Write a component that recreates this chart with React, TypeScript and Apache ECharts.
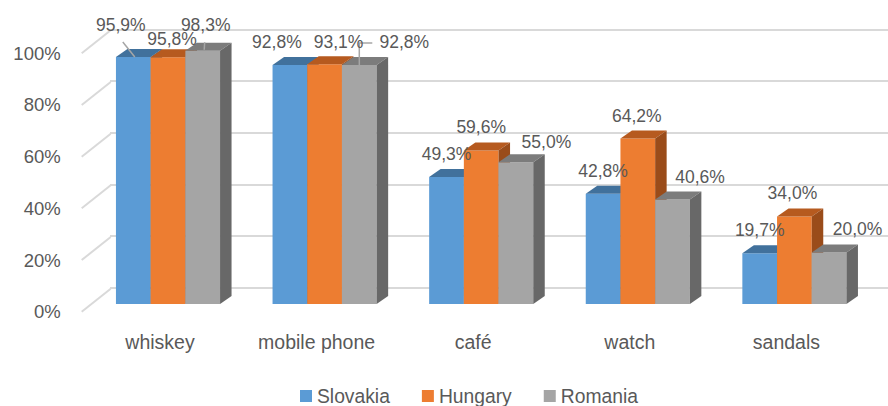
import React, { useEffect, useRef } from "react";
import * as echarts from "echarts";

const categories = ["whiskey", "mobile phone", "café", "watch", "sandals"];
const seriesNames = ["Slovakia", "Hungary", "Romania"];
const slovakia = [95.9, 92.8, 49.3, 42.8, 19.7];
const hungary = [95.8, 93.1, 59.6, 64.2, 34.0];
const romania = [98.3, 92.8, 55.0, 40.6, 20.0];
const yTicks = [0, 20, 40, 60, 80, 100];

// ---- styling (kept apart from the data) ----
const FONT = "'Liberation Sans', Arial, sans-serif";
const TXT = "#595959";
const FRONT = ["#5B9BD5", "#ED7D31", "#A5A5A5"];
const TOP = ["#41719C", "#B65A1F", "#7C7C7C"];
const SIDE = ["#365F86", "#9A4C1A", "#686868"];
const DX = 11.5;
const DY = -8;
const BAR_FRAC = 34.7 / 156.6;
const LABEL_GAP = 23;
const labelNudge = [
  [[-12.5, -9], [-13, 0], [0, 0], [0, 0], [0, 0]],
  [[4, 5], [14, 0.5], [0, 0], [-1, 0], [-2, 0]],
  [[3, -3], [45, 0], [30.5, 3], [27.5, 0.5], [28.5, 0]],
];
const leaders = [
  { s: 0, i: 0, from: [2, 17], elbow: false, end: 0 },
  { s: 2, i: 0, from: [-1, 17.5], elbow: false, end: -1 },
  { s: 2, i: 1, from: [-32, 1], elbow: true, end: 5 },
];

const fmt = (v: number) => v.toFixed(1).replace(".", ",") + "%";

function barSeries(s: number, values: number[]) {
  return {
    type: "custom",
    name: seriesNames[s],
    xAxisIndex: 2,
    yAxisIndex: 2,
    itemStyle: { color: FRONT[s] },
    data: values.map((v, i) => [i, v]),
    encode: { x: 0, y: 1 },
    renderItem: (params: any, api: any) => {
      const idx = api.value(0);
      const v = api.value(1);
      const band = api.size([1, 0])[0];
      const bw = band * BAR_FRAC;
      const [cx, yTop] = api.coord([idx, v]);
      const yBase = api.coord([idx, 0])[1];
      const x0 = cx - 1.5 * bw + s * bw;
      const x1 = x0 + bw;
      const bcx = x0 + bw / 2;
      const [nx, ny] = labelNudge[s][idx];
      const lx = bcx + nx;
      const ly = yTop - LABEL_GAP + ny;
      const children: any[] = [
        {
          type: "rect",
          shape: { x: x0, y: yTop, width: bw, height: yBase - yTop },
          style: { fill: FRONT[s] },
          z2: 1,
        },
        {
          type: "polygon",
          shape: { points: [[x0, yTop], [x0 + DX, yTop + DY], [x1 + DX, yTop + DY], [x1, yTop]] },
          style: { fill: TOP[s] },
          z2: 1,
        },
        {
          type: "polygon",
          shape: { points: [[x1, yTop], [x1 + DX, yTop + DY], [x1 + DX, yBase + DY], [x1, yBase]] },
          style: { fill: SIDE[s] },
          z2: 1,
        },
        {
          type: "text",
          x: lx,
          y: ly,
          style: {
            text: fmt(v),
            fill: TXT,
            font: `17.5px ${FONT}`,
            align: "center",
            verticalAlign: "middle",
          },
          z2: 20,
        },
      ];
      const ld = leaders.find((l) => l.s === s && l.i === idx);
      if (ld) {
        const p0 = [lx + ld.from[0], ly + ld.from[1]];
        const pts = ld.elbow
          ? [p0, [bcx, p0[1]], [bcx, yTop + ld.end]]
          : [p0, [bcx + 1.5, yTop + ld.end]];
        children.push({
          type: "polyline",
          shape: { points: pts },
          style: { stroke: "#A6A6A6", lineWidth: 1.5, fill: null },
          z2: 19,
        });
      }
      return { type: "group", children };
    },
  };
}

export default function App() {
  const ref = useRef<HTMLDivElement>(null);
  useEffect(() => {
    if (!ref.current) return;
    const chart = echarts.init(ref.current, undefined, { renderer: "svg" });
    const option: any = {
      animation: false,
      backgroundColor: "#ffffff",
      textStyle: { fontFamily: FONT },
      legend: {
        data: seriesNames.map((n, s) => ({ name: n, itemStyle: { color: FRONT[s] } })),
        left: 300,
        top: 386.5,
        padding: 0,
        icon: "rect",
        itemWidth: 12,
        itemHeight: 12,
        itemGap: 32,
        textStyle: { color: TXT, fontSize: 19.3, fontFamily: FONT },
      },
      grid: [
        { left: 81.7, width: 783, top: 53.3, height: 258.4 },
        { left: 110, right: 0, top: 29.3, height: 258.4 },
        { left: 89.7, width: 783, top: 46.4, height: 257.6 },
      ],
      xAxis: [
        {
          gridIndex: 0,
          type: "category",
          data: categories,
          axisLine: { show: false },
          axisTick: { show: false },
          axisLabel: { interval: 0, margin: 20, color: TXT, fontSize: 19.5, fontFamily: FONT },
        },
        { gridIndex: 1, type: "value", show: false },
        { gridIndex: 2, type: "category", data: categories, show: false },
      ],
      yAxis: [
        {
          gridIndex: 0,
          type: "value",
          min: 0,
          max: 100,
          interval: 20,
          axisLine: { show: false },
          axisTick: { show: false },
          splitLine: { show: false },
          axisLabel: { margin: 21, color: TXT, fontSize: 18.5, fontFamily: FONT, formatter: "{value}%" },
        },
        {
          gridIndex: 1,
          type: "value",
          min: 0,
          max: 100,
          interval: 20,
          axisLine: { show: false },
          axisTick: { show: false },
          axisLabel: { show: false },
          splitLine: { show: true, lineStyle: { color: "#D9D9D9", width: 2 } },
        },
        { gridIndex: 2, type: "value", min: 0, max: 100, show: false },
      ],
      series: [
        {
          type: "custom",
          xAxisIndex: 0,
          yAxisIndex: 0,
          silent: true,
          data: yTicks.map((v) => [0, v]),
          encode: { x: 0, y: 1 },
          renderItem: (params: any, api: any) => {
            const y = api.coord([0, api.value(1)])[1];
            const x = params.coordSys.x;
            return {
              type: "line",
              shape: { x1: x, y1: y, x2: x + 29, y2: y - 23 },
              style: { stroke: "#D9D9D9", lineWidth: 2 },
            };
          },
        },
        barSeries(0, slovakia),
        barSeries(1, hungary),
        barSeries(2, romania),
      ],
    };
    chart.setOption(option);
    return () => chart.dispose();
  }, []);
  return <div ref={ref} style={{ position: "fixed", left: 0, top: 0, width: 888, height: 406 }} />;
}
